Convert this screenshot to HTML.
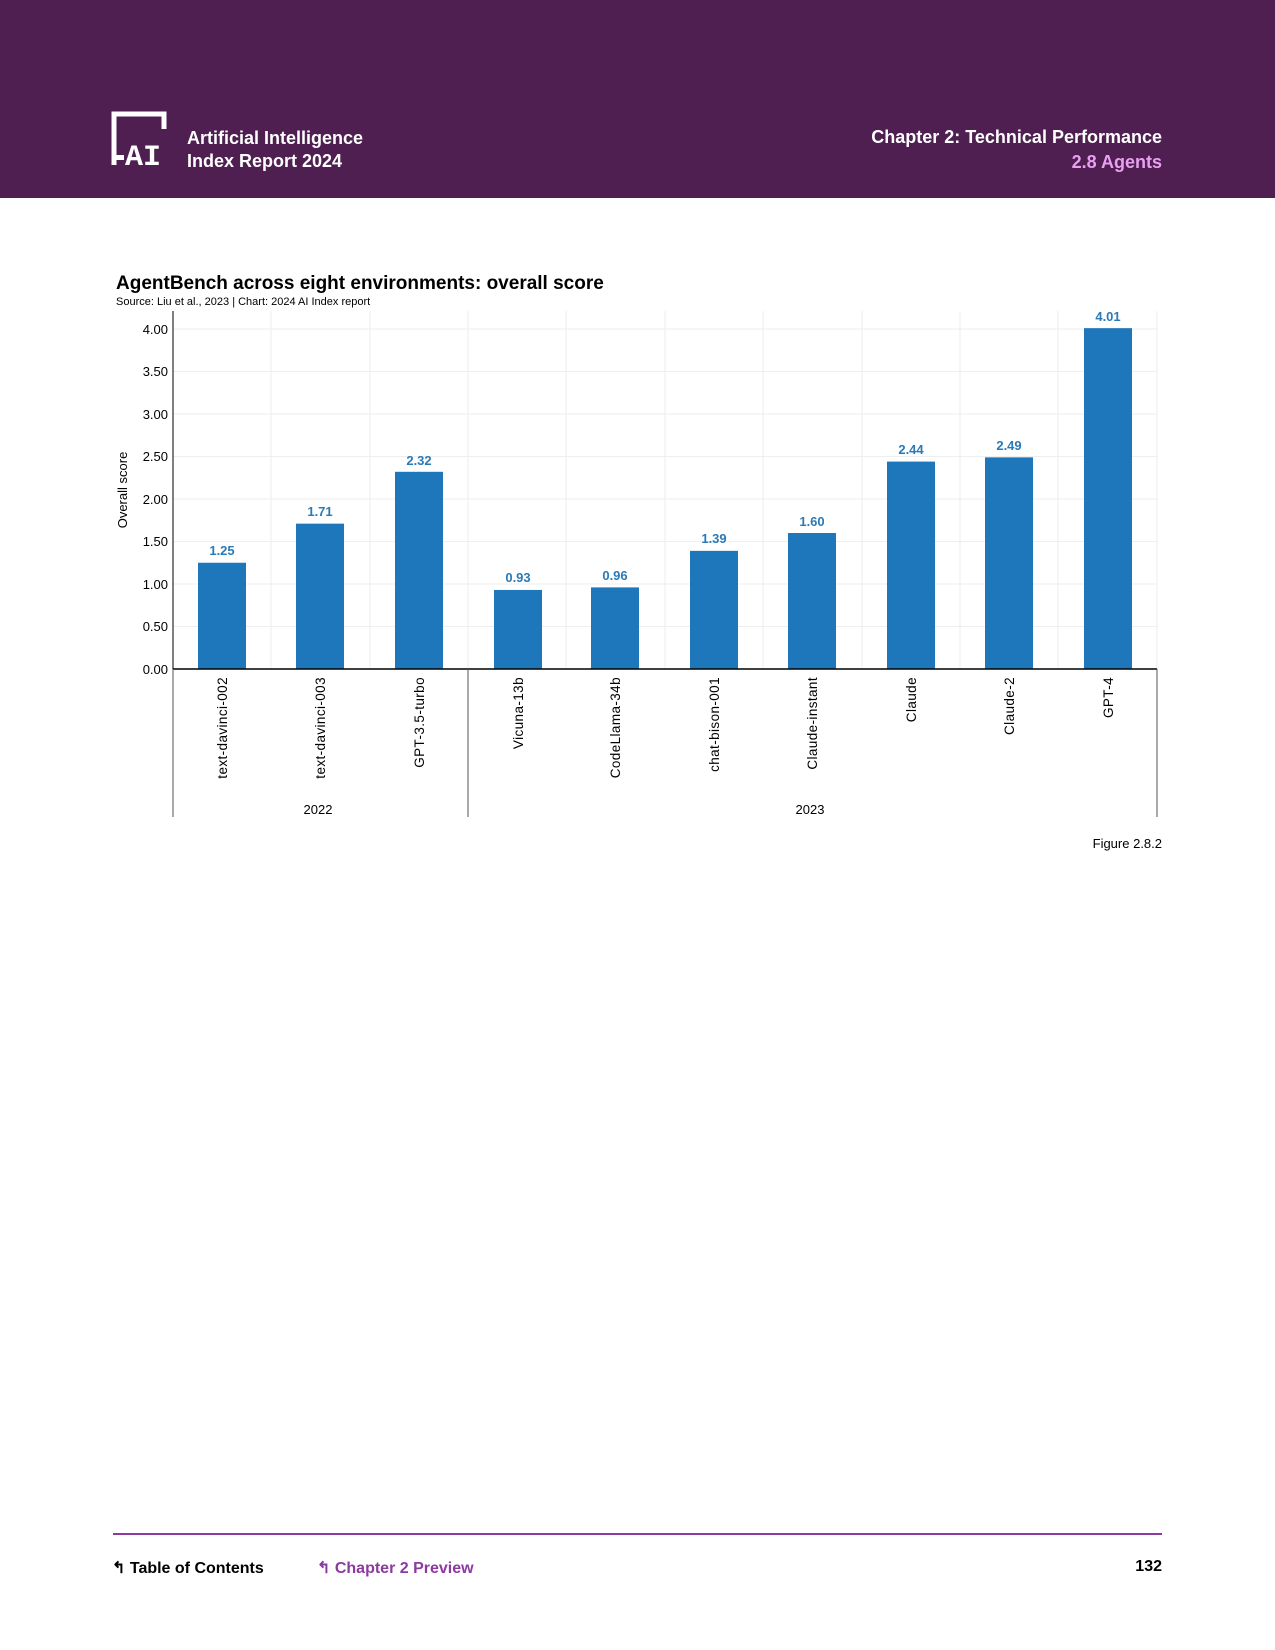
<!DOCTYPE html>
<html><head><style>
body{margin:0;width:1275px;height:1650px;background:#fff;font-family:"Liberation Sans",sans-serif;position:relative;overflow:hidden}
.hdr{position:absolute;left:0;top:0;width:1275px;height:198px;background:#4e1f50}
.t{position:absolute;white-space:nowrap}
</style></head><body>
<div class="hdr"></div>
<svg class="t" style="left:111px;top:111px" width="60" height="58" viewBox="0 0 60 58">
<path d="M3 54 V3 H53 V18" fill="none" stroke="#fff" stroke-width="5"/>
<text x="14" y="54" fill="#fff" font-size="30" font-weight="bold" font-family="Liberation Mono">AI</text>
<rect x="3" y="44" width="10" height="5" fill="#fff"/>
</svg>
<div class="t" style="left:187px;top:127px;color:#fff;font-weight:bold;font-size:18px;line-height:23px">Artificial Intelligence<br>Index Report 2024</div>
<div class="t" style="right:113px;top:125px;color:#fff;font-weight:bold;font-size:18px;text-align:right;line-height:25px">Chapter 2: Technical Performance<br><span style="color:#e9a0f0">2.8 Agents</span></div>
<div class="t" style="left:116px;top:273px;font-weight:bold;font-size:19px">AgentBench across eight environments: overall score</div>
<div class="t" style="left:116px;top:296px;font-size:11px">Source: Liu et al., 2023 | Chart: 2024 AI Index report</div>
<svg class="t" style="left:0;top:0" width="1275" height="900" font-family="Liberation Sans">
<g stroke="#eee" stroke-width="1">
<line x1="173" x2="1157" y1="329" y2="329"/><line x1="173" x2="1157" y1="371.5" y2="371.5"/><line x1="173" x2="1157" y1="414" y2="414"/><line x1="173" x2="1157" y1="456.5" y2="456.5"/><line x1="173" x2="1157" y1="499" y2="499"/><line x1="173" x2="1157" y1="541.5" y2="541.5"/><line x1="173" x2="1157" y1="584" y2="584"/><line x1="173" x2="1157" y1="626.5" y2="626.5"/>
<line x1="271" x2="271" y1="311" y2="669"/><line x1="370" x2="370" y1="311" y2="669"/><line x1="468" x2="468" y1="311" y2="669"/><line x1="566" x2="566" y1="311" y2="669"/><line x1="665" x2="665" y1="311" y2="669"/><line x1="763" x2="763" y1="311" y2="669"/><line x1="862" x2="862" y1="311" y2="669"/><line x1="960" x2="960" y1="311" y2="669"/><line x1="1058" x2="1058" y1="311" y2="669"/><line x1="1157" x2="1157" y1="311" y2="669"/>
</g>
<g font-size="13" text-anchor="end" fill="#000">
<text x="168" y="334">4.00</text><text x="168" y="376">3.50</text><text x="168" y="419">3.00</text><text x="168" y="461">2.50</text><text x="168" y="504">2.00</text><text x="168" y="546">1.50</text><text x="168" y="589">1.00</text><text x="168" y="631">0.50</text><text x="168" y="674">0.00</text>
</g>
<text transform="translate(127,490) rotate(-90)" font-size="13" text-anchor="middle">Overall score</text>
<g fill="#1f77bb">
<rect x="198" y="562.75" width="48" height="106.25"/>
<rect x="296" y="523.65" width="48" height="145.35"/>
<rect x="395" y="471.8" width="48" height="197.2"/>
<rect x="494" y="589.95" width="48" height="79.05"/>
<rect x="591" y="587.4" width="48" height="81.6"/>
<rect x="690" y="550.85" width="48" height="118.15"/>
<rect x="788" y="533" width="48" height="136"/>
<rect x="887" y="461.6" width="48" height="207.4"/>
<rect x="985" y="457.35" width="48" height="211.65"/>
<rect x="1084" y="328.15" width="48" height="340.85"/>
</g>
<g font-size="13" font-weight="bold" fill="#2a7ab8" text-anchor="middle">
<text x="222" y="555">1.25</text><text x="320" y="516">1.71</text><text x="419" y="465">2.32</text><text x="518" y="582">0.93</text><text x="615" y="580">0.96</text><text x="714" y="543">1.39</text><text x="812" y="526">1.60</text><text x="911" y="454">2.44</text><text x="1009" y="450">2.49</text><text x="1108" y="321">4.01</text>
</g>
<line x1="173" x2="173" y1="311" y2="669" stroke="#000"/>
<line x1="173" x2="1157" y1="669" y2="669" stroke="#000" stroke-width="1.5"/>
<g stroke="#555"><line x1="173" x2="173" y1="669" y2="817"/><line x1="468" x2="468" y1="669" y2="817"/><line x1="1157" x2="1157" y1="669" y2="817"/></g>
<g font-size="13.5" text-anchor="end" letter-spacing="0.4">
<text transform="translate(227,677) rotate(-90)">text-davinci-002</text>
<text transform="translate(325,677) rotate(-90)">text-davinci-003</text>
<text transform="translate(424,677) rotate(-90)">GPT-3.5-turbo</text>
<text transform="translate(523,677) rotate(-90)">Vicuna-13b</text>
<text transform="translate(620,677) rotate(-90)">CodeLlama-34b</text>
<text transform="translate(719,677) rotate(-90)">chat-bison-001</text>
<text transform="translate(817,677) rotate(-90)">Claude-instant</text>
<text transform="translate(916,677) rotate(-90)">Claude</text>
<text transform="translate(1014,677) rotate(-90)">Claude-2</text>
<text transform="translate(1113,677) rotate(-90)">GPT-4</text>
</g>
<text x="318" y="814" font-size="13" text-anchor="middle">2022</text>
<text x="810" y="814" font-size="13" text-anchor="middle">2023</text>
<text x="1162" y="848" font-size="13" text-anchor="end">Figure 2.8.2</text>
</svg>
<div class="t" style="left:113px;top:1533px;width:1049px;height:2px;background:#8c3aa0"></div>
<div class="t" style="left:112px;top:1558px;font-size:16px;font-weight:bold">↰ Table of Contents</div>
<div class="t" style="left:317px;top:1558px;font-size:16px;font-weight:bold;color:#8c3aa0">↰ Chapter 2 Preview</div>
<div class="t" style="right:113px;top:1558px;font-size:16px;font-weight:bold">132</div>
</body></html>
